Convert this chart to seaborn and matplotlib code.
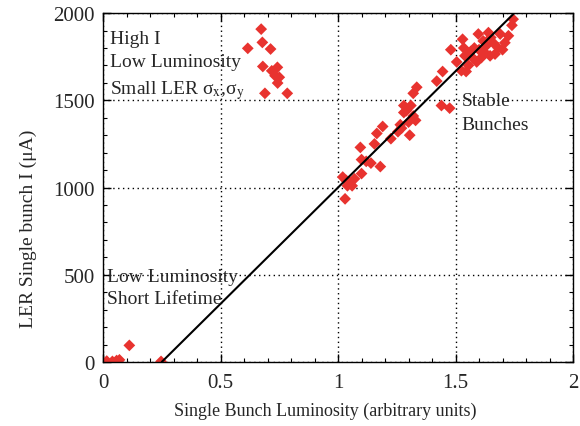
import numpy as np
import pandas as pd
import matplotlib
matplotlib.use("Agg")
import matplotlib.pyplot as plt
import seaborn as sns
from matplotlib.ticker import MultipleLocator

# ---- data ----
high_x = [0.673, 0.616, 0.678, 0.713, 0.680, 0.718, 0.742, 0.732, 0.750, 0.743, 0.689, 0.784]
high_y = [1908, 1798, 1832, 1794, 1694, 1669, 1689, 1641, 1632, 1599, 1540, 1540]

low_x = [0.016, 0.040, 0.058, 0.070, 0.112, 0.247]
low_y = [5, 3, 8, 12, 95, 3]

main_x = [1.02, 1.03, 1.035, 1.05, 1.06, 1.04, 1.07, 1.10, 1.10, 1.095, 1.12, 1.14,
          1.18, 1.155, 1.165, 1.19, 1.225, 1.255, 1.265, 1.28, 1.28, 1.29, 1.30, 1.305,
          1.31, 1.32, 1.32, 1.335, 1.33, 1.27,
          1.42, 1.445, 1.44, 1.475, 1.48, 1.505, 1.525, 1.53, 1.535, 1.54, 1.545, 1.555,
          1.565, 1.58, 1.59, 1.597, 1.61, 1.618, 1.632, 1.64, 1.647, 1.66, 1.668, 1.682,
          1.69, 1.70, 1.71, 1.725, 1.74, 1.745, 1.60, 1.62, 1.65, 1.575]
main_y = [1060, 935, 1040, 1030, 1010, 1010, 1050, 1080, 1160, 1230, 1150, 1140,
          1120, 1250, 1310, 1350, 1280, 1320, 1360, 1430, 1470, 1440, 1375, 1300,
          1470, 1410, 1540, 1575, 1385, 1340,
          1610, 1665, 1470, 1455, 1790, 1720, 1670, 1850, 1800, 1755, 1665, 1700,
          1780, 1800, 1720, 1880, 1745, 1840, 1815, 1888, 1755, 1830, 1765, 1800,
          1880, 1790, 1830, 1870, 1930, 1965, 1790, 1780, 1860, 1740]

fit_x = [0.25, 1.75]
fit_y = [0, 2000]

x_ticks = [0, 0.5, 1, 1.5, 2]
x_tick_labels = ["0", "0.5", "1", "1.5", "2"]
y_ticks = [0, 500, 1000, 1500, 2000]

df = pd.DataFrame({"x": high_x + low_x + main_x, "y": high_y + low_y + main_y})
fit = pd.DataFrame({"x": fit_x, "y": fit_y})

sns.set_style("ticks")
plt.rcParams['font.family'] = ['Liberation Serif', 'DejaVu Serif']
plt.rcParams['mathtext.fontset'] = 'stix'

fig = plt.figure(figsize=(5.8, 4.27), dpi=100)
ax = fig.add_axes([0.1776, 0.15, 0.8104, 0.817])

sns.lineplot(data=fit, x="x", y="y", ax=ax, color="black", linewidth=1.5, zorder=3)
sns.scatterplot(data=df, x="x", y="y", ax=ax, marker="D", s=36, color="#E8332F",
                edgecolor="none", linewidth=0, zorder=2)

ax.set_xlim(0, 2)
ax.set_ylim(0, 2000)
ax.set_xticks(x_ticks)
ax.set_xticklabels(x_tick_labels)
ax.set_yticks(y_ticks)
ax.xaxis.set_minor_locator(MultipleLocator(0.1))
ax.yaxis.set_minor_locator(MultipleLocator(100))
ax.tick_params(which="both", direction="in", top=True, right=True, labelsize=15, color="black")
ax.tick_params(axis="x", which="major", pad=8)
ax.tick_params(axis="y", which="major", pad=6)
ax.tick_params(which="major", length=6, width=1)
ax.tick_params(which="minor", length=3, width=0.8)
ax.grid(True, which="major", linestyle=(0, (1, 2.5)), color="black", linewidth=1)
for s in ax.spines.values():
    s.set_color("black")
    s.set_linewidth(1)

ax.set_xlabel("Single Bunch Luminosity (arbitrary units)", fontsize=13)
ax.set_ylabel("LER Single bunch I (\u03bcA)", fontsize=14)
ax.xaxis.set_label_coords(0.472, -0.113)
ax.yaxis.set_label_coords(-0.14, 0.384)

ax.text(0.03, 1905, "High I\nLow Luminosity\nSmall LER \u03c3$_{\\mathrm{x}}$,\u03c3$_{\\mathrm{y}}$",
        fontsize=14, va="top", ha="left", linespacing=1.5)
ax.text(1.525, 1545, "Stable\nBunches", fontsize=14, va="top", ha="left", linespacing=1.5)
ax.text(0.015, 540, "Low Luminosity\nShort Lifetime", fontsize=14, va="top", ha="left",
        linespacing=1.4)

fig.savefig("out.png", dpi=100)
